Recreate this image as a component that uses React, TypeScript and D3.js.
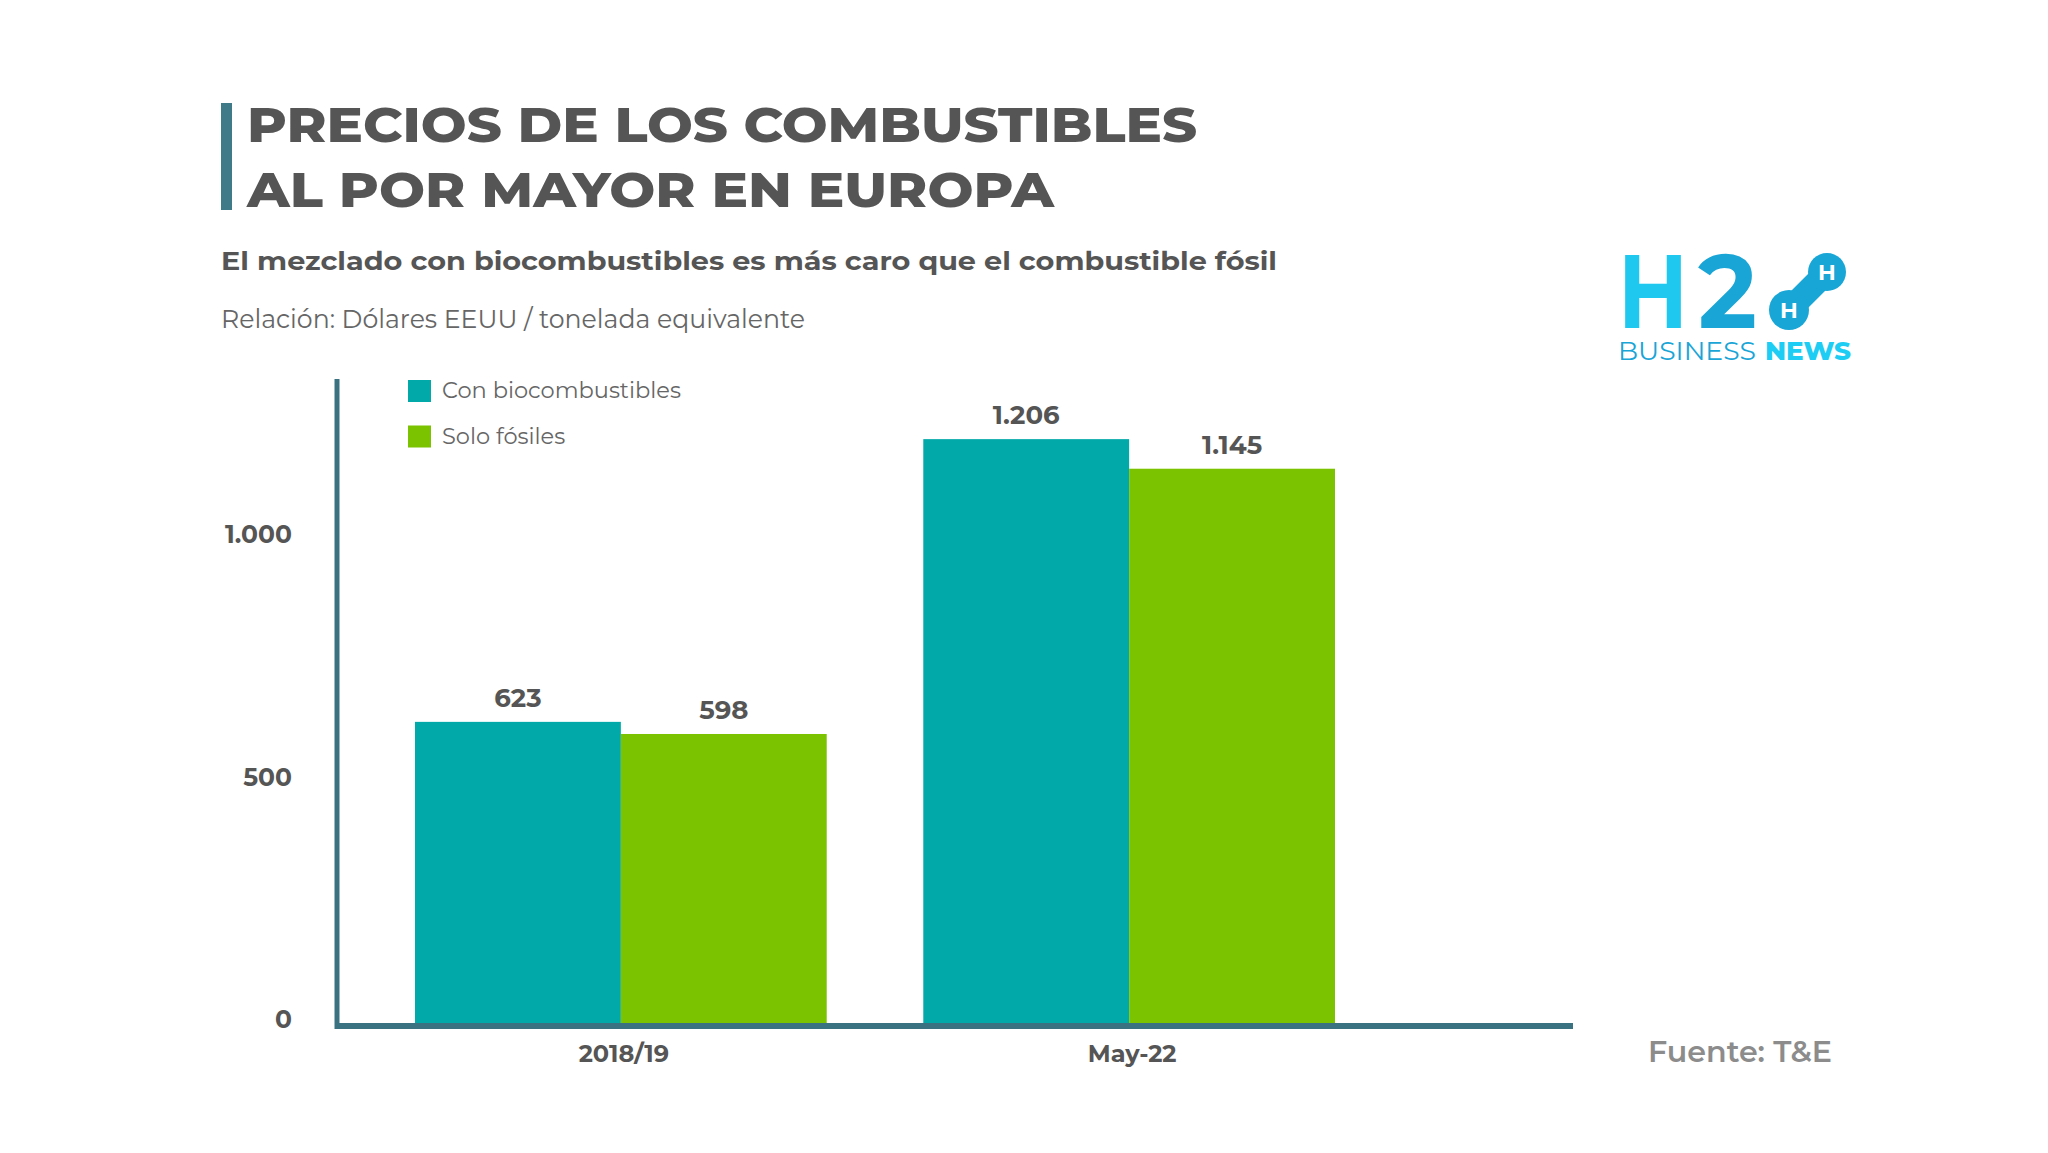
import React from 'react';
import * as d3 from 'd3';

// datos: precio mayorista, USD por tonelada equivalente
const categories = ['2018/19', 'May-22'];
const seriesNames = ['Con biocombustibles', 'Solo fósiles'];
const conBiocombustibles = [623, 1206];
const soloFosiles = [598, 1145];
const yTicks = [0, 500, 1000];
const seriesColors = ['#01a9a9', '#7bc200'];

const W = 2048;
const H = 1153;
const FONT = "Montserrat, 'Open Sans', sans-serif";
const GREY = '#555555';
const AXIS = '#3b7282';

const esFormat = d3.formatLocale({ decimal: ',', thousands: '.', grouping: [3], currency: ['', ''] }).format(',d');

export default function App() {
	const rows = categories.map((c, i) => ({ cat: c, values: [conBiocombustibles[i], soloFosiles[i]] }));

	const y = d3.scaleLinear().domain([0, 1330]).range([1024, 379]);
	const x0 = d3.scaleBand<string>().domain(categories).range([415, 1335]).paddingInner(0.19);
	const x1 = d3.scaleBand<number>().domain([0, 1]).range([0, x0.bandwidth()]);

	return (
		<svg width={W} height={H} style={{ position: 'absolute', left: 0, top: 0, background: '#fff' }} fontFamily={FONT}>
			<rect width={W} height={H} fill="#fff" />

			{/* cabecera */}
			<rect x={221} y={103} width={11} height={107} fill="#3e7a88" />
			<text x={247} y={142} fontSize={49} fontWeight={800} fill={GREY} textLength={950} lengthAdjust="spacingAndGlyphs">PRECIOS DE LOS COMBUSTIBLES</text>
			<text x={247} y={207} fontSize={49} fontWeight={800} fill={GREY} textLength={807} lengthAdjust="spacingAndGlyphs">AL POR MAYOR EN EUROPA</text>
			<text x={221} y={270} fontSize={26} fontWeight={700} fill={GREY} textLength={1056} lengthAdjust="spacingAndGlyphs">El mezclado con biocombustibles es más caro que el combustible fósil</text>
			<text x={221} y={328} fontSize={26} fontWeight={400} fill="#666" textLength={584} lengthAdjust="spacingAndGlyphs">Relación: Dólares EEUU / tonelada equivalente</text>

			{/* logo */}
			<g>
				<text x={1618} y={328} fontSize={104} fontWeight={700} fill="#1ec8ef" textLength={70} lengthAdjust="spacingAndGlyphs">H</text>
				<text x={1698} y={328} fontSize={104} fontWeight={700} fill="#1aa5d7" textLength={59} lengthAdjust="spacingAndGlyphs">2</text>
				<line x1={1789} y1={310} x2={1827} y2={272} stroke="#18a6d6" strokeWidth={24} strokeLinecap="round" />
				<circle cx={1789} cy={310} r={20} fill="#18a6d6" />
				<circle cx={1827} cy={272} r={19} fill="#18a6d6" />
				<text x={1789} y={318} fontSize={22} fontWeight={700} fill="#fff" textAnchor="middle">H</text>
				<text x={1827} y={280} fontSize={22} fontWeight={700} fill="#fff" textAnchor="middle">H</text>
				<text x={1618} y={360} fontSize={26} fontWeight={400} fill="#1aa5d7" textLength={138} lengthAdjust="spacingAndGlyphs">BUSINESS</text>
				<text x={1765} y={360} fontSize={26} fontWeight={800} fill="#1ecdf3" textLength={86} lengthAdjust="spacingAndGlyphs">NEWS</text>
			</g>

			{/* leyenda */}
			{seriesNames.map((s, i) => (
				<g key={s} transform={`translate(408, ${380 + i * 45.5})`}>
					<rect width={23} height={22} fill={seriesColors[i]} />
					<text x={34} y={18} fontSize={22.5} fill="#666">{s}</text>
				</g>
			))}

			{/* barras */}
			{rows.map(r => (
				<g key={r.cat} transform={`translate(${x0(r.cat)}, 0)`}>
					{r.values.map((v, j) => (
						<g key={j}>
							<rect x={x1(j)} y={y(v)} width={x1.bandwidth()} height={y(0) - y(v)} fill={seriesColors[j]} />
							<text x={(x1(j) as number) + x1.bandwidth() / 2} y={y(v) - 15} fontSize={26} fontWeight={700} fill={GREY} textAnchor="middle">{esFormat(v)}</text>
						</g>
					))}
					<text x={x0.bandwidth() / 2 + 3} y={1062} fontSize={24} fontWeight={700} fill={GREY} textAnchor="middle">{r.cat}</text>
				</g>
			))}

			{/* ejes */}
			<line x1={337} y1={379} x2={337} y2={1029} stroke={AXIS} strokeWidth={5} />
			<line x1={335} y1={1026} x2={1573} y2={1026} stroke={AXIS} strokeWidth={6} />
			{yTicks.map(t => (
				<text key={t} x={292} y={y(t) + 4} fontSize={25} fontWeight={700} fill={GREY} textAnchor="end">{esFormat(t)}</text>
			))}

			<text x={1648} y={1062} fontSize={30} fontWeight={600} fill="#8c8c8c" textLength={184} lengthAdjust="spacingAndGlyphs">Fuente: T&amp;E</text>
		</svg>
	);
}
